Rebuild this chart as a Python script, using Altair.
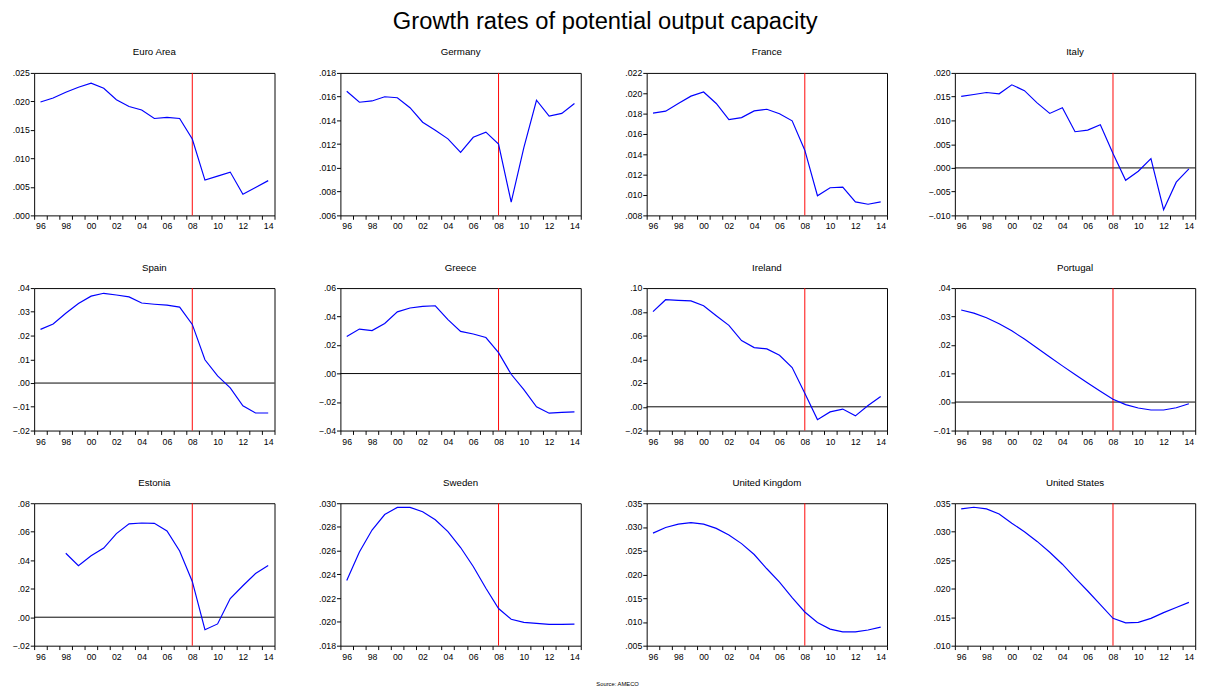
import altair as alt
import pandas as pd

FONT = "Liberation Sans"

years_all = list(range(1996, 2015))
break_year = 2008

euro_area = [0.0199, 0.0206, 0.0216, 0.0225, 0.0232, 0.0223, 0.0203, 0.0191, 0.0185, 0.0170,
             0.0172, 0.0170, 0.0134, 0.0062, 0.0069, 0.0076, 0.0037, 0.0049, 0.0061]
germany = [0.01646, 0.01553, 0.01564, 0.01599, 0.01591, 0.01507, 0.01385, 0.01318, 0.01245, 0.01131,
           0.01258, 0.01301, 0.01201, 0.00711, 0.0117, 0.0157, 0.01437, 0.01459, 0.01543]
france = [0.01805, 0.01824, 0.0190, 0.01972, 0.02013, 0.0190, 0.01742, 0.01761, 0.01827, 0.01843,
          0.01799, 0.01729, 0.01441, 0.00993, 0.01072, 0.01078, 0.00933, 0.0091, 0.00933]
italy = [0.01506, 0.01546, 0.01587, 0.0156, 0.0175, 0.01627, 0.0137, 0.01147, 0.01269, 0.00762,
         0.00796, 0.0091, 0.00305, -0.0026, -0.0007, 0.00196, -0.0088, -0.0030, -0.0002]
spain = [0.0226, 0.0249, 0.0294, 0.0335, 0.0366, 0.0378, 0.0371, 0.0363, 0.0337, 0.0332,
         0.0328, 0.0320, 0.0247, 0.0098, 0.0030, -0.0020, -0.0096, -0.0126, -0.0126]
greece = [0.0260, 0.0312, 0.0302, 0.0352, 0.0433, 0.0460, 0.0472, 0.0476, 0.0379, 0.0296,
          0.0278, 0.0253, 0.0147, -0.0005, -0.0113, -0.0233, -0.0278, -0.0273, -0.0269]
ireland = [0.0802, 0.0902, 0.0897, 0.0892, 0.0851, 0.0767, 0.0686, 0.0558, 0.0499, 0.0488,
           0.0434, 0.0331, 0.0115, -0.0108, -0.0043, -0.0019, -0.0076, 0.0011, 0.0087]
portugal = [0.0323, 0.0312, 0.0296, 0.0275, 0.0250, 0.0221, 0.0190, 0.0158, 0.0127, 0.0097,
            0.0067, 0.0038, 0.0010, -0.0009, -0.0021, -0.0028, -0.0028, -0.0020, -0.0006]
estonia = [0.0449, 0.0361, 0.0431, 0.0485, 0.0587, 0.0655, 0.0661, 0.0659, 0.0605,
           0.0465, 0.0251, -0.0088, -0.0047, 0.0131, 0.0221, 0.0307, 0.0363]
sweden = [0.0235, 0.0259, 0.02774, 0.02905, 0.02965, 0.02965, 0.02929, 0.02861, 0.02761, 0.02627,
          0.02467, 0.02284, 0.02113, 0.02023, 0.01996, 0.01988, 0.0198, 0.0198, 0.01982]
united_kingdom = [0.0287, 0.0299, 0.0306, 0.0309, 0.0306, 0.0297, 0.0283, 0.0265, 0.0242, 0.0212,
                  0.0184, 0.0151, 0.0121, 0.0099, 0.0085, 0.0079, 0.0079, 0.0083, 0.0089]
united_states = [0.0340, 0.0343, 0.0340, 0.0331, 0.0315, 0.0300, 0.0283, 0.0264, 0.0243, 0.0219,
                 0.0196, 0.0172, 0.0148, 0.0140, 0.0141, 0.0148, 0.0158, 0.0167, 0.0176]

# name, first year, values, y ticks, decimals
panels = [
    ("Euro Area", 1996, euro_area, [0.000, 0.005, 0.010, 0.015, 0.020, 0.025], 3),
    ("Germany", 1996, germany, [0.006, 0.008, 0.010, 0.012, 0.014, 0.016, 0.018], 3),
    ("France", 1996, france, [0.008, 0.010, 0.012, 0.014, 0.016, 0.018, 0.020, 0.022], 3),
    ("Italy", 1996, italy, [-0.010, -0.005, 0.000, 0.005, 0.010, 0.015, 0.020], 3),
    ("Spain", 1996, spain, [-0.02, -0.01, 0.00, 0.01, 0.02, 0.03, 0.04], 2),
    ("Greece", 1996, greece, [-0.04, -0.02, 0.00, 0.02, 0.04, 0.06], 2),
    ("Ireland", 1996, ireland, [-0.02, 0.00, 0.02, 0.04, 0.06, 0.08, 0.10], 2),
    ("Portugal", 1996, portugal, [-0.01, 0.00, 0.01, 0.02, 0.03, 0.04], 2),
    ("Estonia", 1998, estonia, [-0.02, 0.00, 0.02, 0.04, 0.06, 0.08], 2),
    ("Sweden", 1996, sweden, [0.018, 0.020, 0.022, 0.024, 0.026, 0.028, 0.030], 3),
    ("United Kingdom", 1996, united_kingdom, [0.005, 0.010, 0.015, 0.020, 0.025, 0.030, 0.035], 3),
    ("United States", 1996, united_states, [0.010, 0.015, 0.020, 0.025, 0.030, 0.035], 3),
]

W, H = 248, 147
x_tick_years = list(range(1996, 2016))


def make_panel(name, start, values, yticks, dec):
    df = pd.DataFrame({"year": list(range(start, start + len(values))), "value": values})
    xenc = alt.X(
        "xpos:Q",
        scale=alt.Scale(domain=[1996, 2015], nice=False, zero=False),
        axis=alt.Axis(
            values=x_tick_years,
            labelExpr="(datum.value % 2 == 0 && datum.value < 2015) ? substring(toString(datum.value), 2, 4) : ''",
            labelOffset=6.5,
            labelOverlap=False,
            labelFlush=False,
            title=None,
            grid=False,
            domain=False,
            tickSize=4,
            labelPadding=3,
        ),
    )
    yenc = alt.Y(
        "value:Q",
        scale=alt.Scale(domain=[yticks[0], yticks[-1]], nice=False, zero=False),
        axis=alt.Axis(
            values=yticks,
            labelExpr="replace(format(datum.value, '.%df'), '0.', '.')" % dec,
            title=None,
            grid=False,
            domain=False,
            tickSize=4,
            labelPadding=1,
            minExtent=26,
            maxExtent=26,
            labelOverlap=False,
        ),
    )
    layers = []
    if yticks[0] < 0 < yticks[-1]:
        zero_df = pd.DataFrame({"value": [0.0]})
        layers.append(alt.Chart(zero_df).mark_rule(color="black", strokeWidth=1).encode(y=yenc))
    brk = pd.DataFrame({"year": [break_year]})
    layers.append(
        alt.Chart(brk).transform_calculate(xpos="datum.year + 0.5")
        .mark_rule(color="#ff0000", strokeWidth=1).encode(x=xenc)
    )
    layers.append(
        alt.Chart(df).transform_calculate(xpos="datum.year + 0.5")
        .mark_line(color="#0000ff", strokeWidth=1.2).encode(x=xenc, y=yenc)
    )
    return alt.layer(*layers).properties(
        width=W, height=H,
        title=alt.TitleParams(name, fontSize=10, fontWeight="normal", font=FONT,
                              color="black", offset=12, anchor="middle"),
    )


charts = [make_panel(*p) for p in panels]
grid = alt.concat(*charts, columns=4, spacing={"row": 31, "column": 34})

source = alt.Chart(pd.DataFrame({"t": ["Source: AMECO"]})).mark_text(
    fontSize=6, font=FONT, color="black", align="center", baseline="middle"
).encode(text="t:N", x=alt.value(602), y=alt.value(2)).properties(
    width=1198, height=4, view=alt.ViewBackground(stroke="transparent")
)

chart = alt.vconcat(grid, source, spacing=19).properties(
    title=alt.TitleParams("Growth rates of potential output capacity", fontSize=24.5,
                          fontWeight="normal", font=FONT, color="black", anchor="middle",
                          offset=13),
    padding={"left": 0, "right": 0, "top": -9, "bottom": 0},
).configure_view(stroke="black", strokeWidth=1).configure_axis(
    labelFont=FONT, labelFontSize=9, labelColor="black", tickColor="black", tickWidth=1
)

chart.save("out.html", embed_options={"renderer": "svg", "actions": False})
